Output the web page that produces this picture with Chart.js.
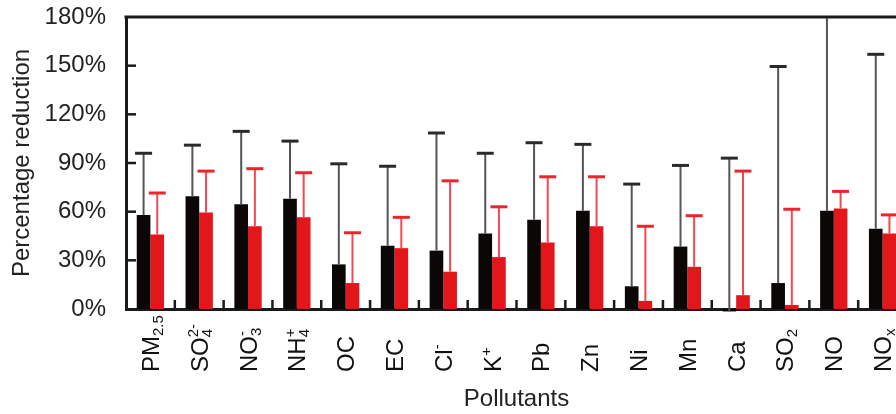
<!DOCTYPE html>
<html>
<head>
<meta charset="utf-8">
<script src="https://cdn.jsdelivr.net/npm/chart.js@4.4.0/dist/chart.umd.min.js"></script>
<style>
  html, body { margin: 0; padding: 0; background: #fff; overflow: hidden; }
  #wrap { position: absolute; left: 0; top: 0; }
</style>
</head>
<body>
<div id="wrap"><canvas id="chart" width="907" height="414"></canvas></div>
<script>
// markup: _x or _{..} = subscript, ^x or ^{..} = superscript
const categories = ['PM_{2.5}', 'SO_4^{2-}', 'NO_3^-', 'NH_4^+', 'OC', 'EC', 'Cl^-', 'K^+',
                    'Pb', 'Zn', 'Ni', 'Mn', 'Ca', 'SO_2', 'NO', 'NO_x'];
const blackValues = [58, 69.5, 64.5, 68, 27.5, 39, 36, 46.5, 55, 60.5, 14, 38.5, -1.5, 16, 60.5, 49.5];
const blackUpper  = [96, 101, 109.5, 103.5, 89.5, 88, 108.5, 96, 102.5, 101.5, 77, 88.5, 93, 149.5, 195, 157];
const redValues   = [46, 59.5, 51, 56.5, 16, 37.5, 23, 32, 41, 51, 5, 26, 8.5, 2.5, 62, 46.5];
const redUpper    = [71.5, 85, 86.5, 84, 47, 56.5, 79, 63, 81.5, 81.5, 51, 57.5, 85, 61.5, 72.5, 58];
const yTicks = [0, 30, 60, 90, 120, 150, 180];

const FONT = '"Liberation Sans", Arial, sans-serif';
const AXIS = '#1a1a1a';

function parseLabel(s) {
    const parts = [];
    let i = 0;
    while (i < s.length) {
        const c = s[i];
        if (c === '_' || c === '^') {
            let txt;
            if (s[i + 1] === '{') {
                const k = s.indexOf('}', i);
                txt = s.slice(i + 2, k);
                i = k + 1;
            } else {
                txt = s[i + 1];
                i += 2;
            }
            parts.push({ text: txt, kind: c === '_' ? 'sub' : 'sup' });
        } else {
            let k = i;
            while (k < s.length && s[k] !== '_' && s[k] !== '^') k++;
            parts.push({ text: s.slice(i, k), kind: 'main' });
            i = k;
        }
    }
    return parts;
}

// error bars (upper only), from each dataset's "upper" array
const errorBars = {
    id: 'errorBars',
    afterDatasetsDraw(chart) {
        const ctx = chart.ctx, y = chart.scales.y, area = chart.chartArea;
        chart.data.datasets.forEach((ds, i) => {
            const meta = chart.getDatasetMeta(i);
            meta.data.forEach((bar, j) => {
                const top = y.getPixelForValue(ds.upper[j]);
                const yEnd = Math.max(top, area.top);
                ctx.save();
                ctx.strokeStyle = ds.errLine;
                ctx.lineWidth = 2;
                ctx.beginPath();
                ctx.moveTo(bar.x, bar.y);
                ctx.lineTo(bar.x, yEnd);
                ctx.stroke();
                if (top >= area.top) {
                    ctx.strokeStyle = ds.errCap;
                    ctx.lineWidth = 3;
                    ctx.beginPath();
                    ctx.moveTo(bar.x - 8.5, top);
                    ctx.lineTo(bar.x + 8.5, top);
                    ctx.stroke();
                }
                ctx.restore();
            });
        });
    }
};

// top frame line, inward tick marks, rotated category labels with sub/superscripts
const frame = {
    id: 'frame',
    afterDraw(chart) {
        const ctx = chart.ctx, area = chart.chartArea;
        const x = chart.scales.x, y = chart.scales.y;
        ctx.save();
        ctx.strokeStyle = AXIS;
        ctx.lineWidth = 3;
        ctx.beginPath();
        ctx.moveTo(area.left - 1.5, area.top);
        ctx.lineTo(area.right, area.top);
        ctx.stroke();

        ctx.lineWidth = 2.5;
        yTicks.slice(1, -1).forEach(v => {
            const py = y.getPixelForValue(v);
            ctx.beginPath();
            ctx.moveTo(area.left, py);
            ctx.lineTo(area.left + 10, py);
            ctx.stroke();
        });
        for (let j = 0; j < categories.length - 1; j++) {
            const px = (x.getPixelForValue(j) + x.getPixelForValue(j + 1)) / 2;
            ctx.beginPath();
            ctx.moveTo(px, area.bottom);
            ctx.lineTo(px, area.bottom - 9);
            ctx.stroke();
        }

        ctx.fillStyle = '#111';
        ctx.textAlign = 'left';
        ctx.textBaseline = 'alphabetic';
        const mainFont = '24px ' + FONT, smallFont = '15px ' + FONT;
        const base = 8.5;
        categories.forEach((lab, j) => {
            const cx = x.getPixelForValue(j);
            ctx.save();
            ctx.translate(cx, area.bottom + 63);
            ctx.rotate(-Math.PI / 2);
            let pos = 0, subStart = null;
            parseLabel(lab).forEach(p => {
                if (p.kind === 'main') {
                    ctx.font = mainFont;
                    ctx.fillText(p.text, pos, base);
                    pos += ctx.measureText(p.text).width;
                    subStart = null;
                } else if (p.kind === 'sub') {
                    ctx.font = smallFont;
                    ctx.fillText(p.text, pos, base + 4);
                    subStart = pos;
                    pos += ctx.measureText(p.text).width;
                } else {
                    ctx.font = smallFont;
                    const start = subStart !== null ? subStart : pos;
                    ctx.fillText(p.text, start, base - 10);
                    pos = Math.max(pos, start + ctx.measureText(p.text).width);
                }
            });
            ctx.restore();
        });
        ctx.restore();
    }
};

new Chart(document.getElementById('chart'), {
    type: 'bar',
    data: {
        labels: categories,
        datasets: [
            { label: 'black', data: blackValues, upper: blackUpper, backgroundColor: '#0b0707',
              errLine: '#555', errCap: '#2a2a2a', clip: false },
            { label: 'red', data: redValues, upper: redUpper, backgroundColor: '#e3161c',
              errLine: '#ef4a4f', errCap: '#e8262c', clip: false }
        ]
    },
    options: {
        responsive: false,
        animation: false,
        layout: { padding: { top: 17, left: 0, right: 0, bottom: 0 } },
        datasets: { bar: { categoryPercentage: 0.56, barPercentage: 1.0, borderWidth: 0 } },
        plugins: { legend: { display: false }, tooltip: { enabled: false } },
        scales: {
            x: {
                grid: { display: false },
                ticks: { display: false },
                border: { display: true, color: AXIS, width: 3 },
                title: { display: true, text: 'Pollutants', color: '#222',
                         font: { family: FONT, size: 24 }, padding: { top: 0, bottom: 0 } },
                afterFit(s) { s.height = 105; s.paddingLeft = 0; s.paddingRight = 0; }
            },
            y: {
                min: 0,
                max: 180,
                grid: { display: false },
                border: { display: true, color: AXIS, width: 3 },
                afterBuildTicks(s) { s.ticks = yTicks.map(v => ({ value: v })); },
                ticks: { callback: v => v + '%', color: '#222', padding: 12,
                         font: { family: FONT, size: 24 } },
                title: { display: true, text: 'Percentage reduction', color: '#222',
                         font: { family: FONT, size: 24 }, padding: { top: 8, bottom: 0 } },
                afterFit(s) { s.width = 126; s.paddingTop = 0; s.paddingBottom = 0; }
            }
        }
    },
    plugins: [errorBars, frame]
});
</script>
</body>
</html>
